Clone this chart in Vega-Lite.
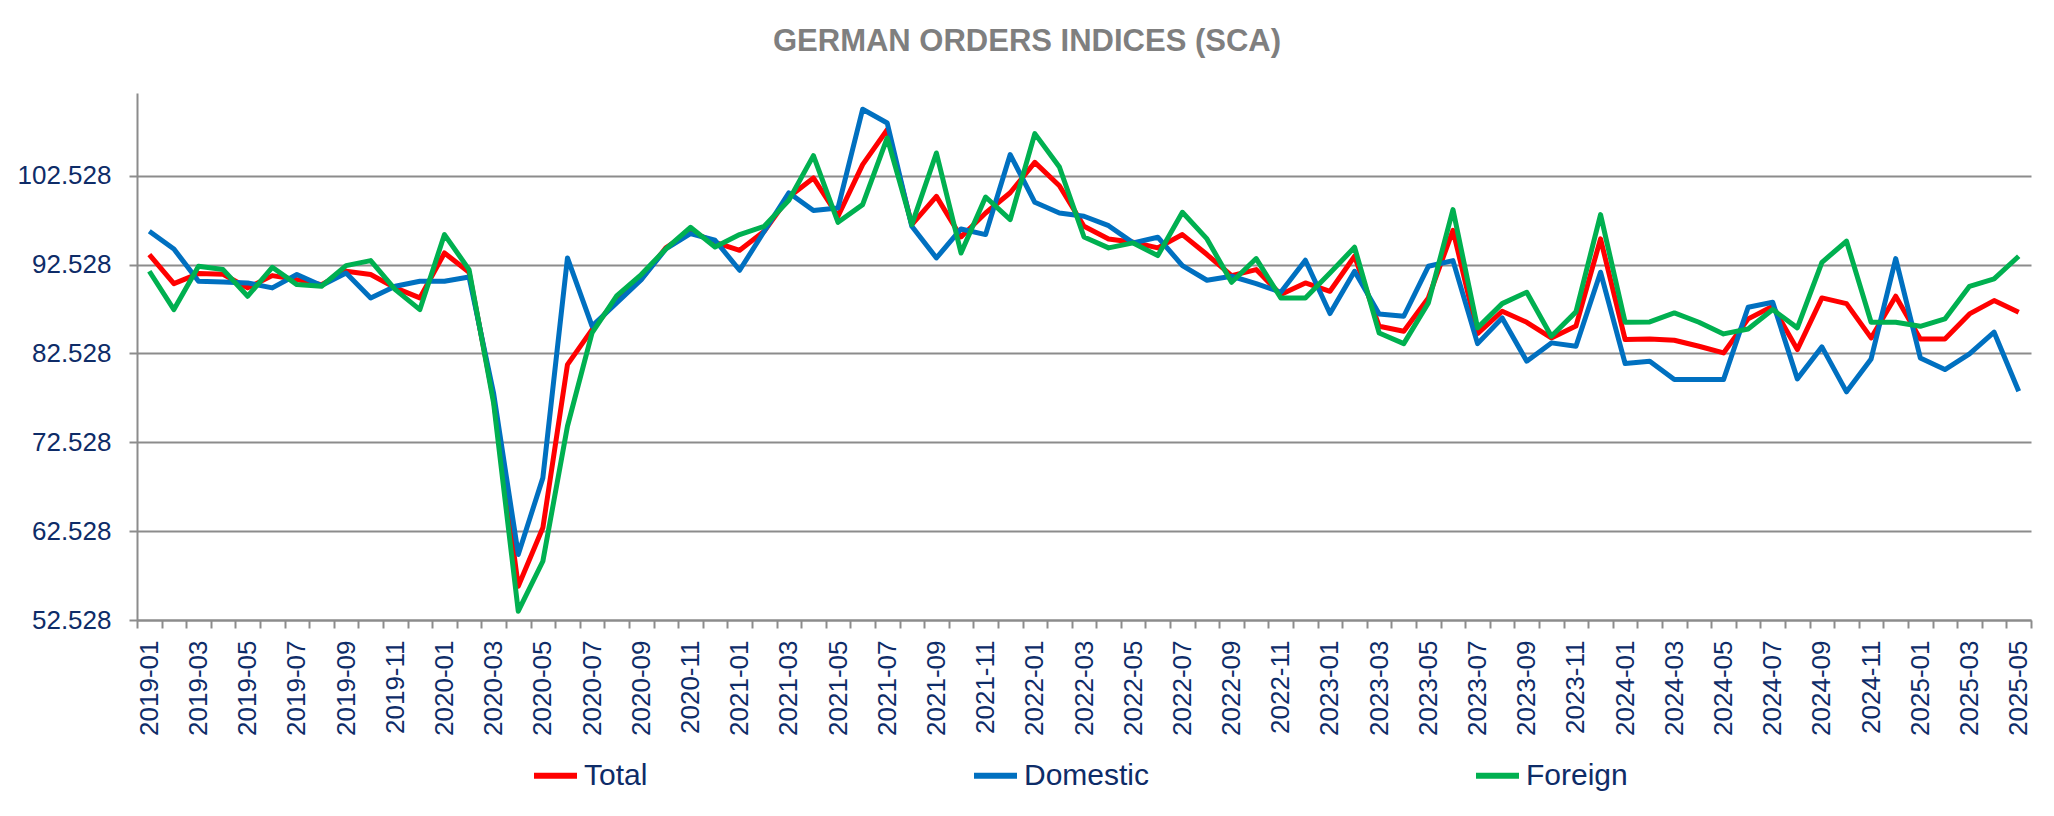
{
  "$schema": "https://vega.github.io/schema/vega-lite/v6.json",
  "autosize": "none",
  "width": 1894,
  "height": 527,
  "padding": {"left": 137, "top": 93, "right": 23, "bottom": 196},
  "config": {
    "font": "Liberation Sans",
    "view": {"stroke": null}
  },
  "title": {
    "text": "GERMAN ORDERS INDICES (SCA)",
    "fontSize": 31,
    "fontWeight": "bold",
    "color": "#7f7f7f",
    "font": "Liberation Sans",
    "anchor": "middle",
    "baseline": "alphabetic",
    "offset": 11,
    "dx": -57
  },
  "data": {
    "values": [
      {"m":"2019-01","s":"Total","v":93.65},{"m":"2019-02","s":"Total","v":90.38},{"m":"2019-03","s":"Total","v":91.51},{"m":"2019-04","s":"Total","v":91.43},{"m":"2019-05","s":"Total","v":89.9},{"m":"2019-06","s":"Total","v":91.28},{"m":"2019-07","s":"Total","v":90.83},{"m":"2019-08","s":"Total","v":90.27},{"m":"2019-09","s":"Total","v":91.77},{"m":"2019-10","s":"Total","v":91.4},{"m":"2019-11","s":"Total","v":89.9},{"m":"2019-12","s":"Total","v":88.77},
      {"m":"2020-01","s":"Total","v":93.83},{"m":"2020-02","s":"Total","v":91.66},{"m":"2020-03","s":"Total","v":77.3},{"m":"2020-04","s":"Total","v":56.33},{"m":"2020-05","s":"Total","v":62.9},{"m":"2020-06","s":"Total","v":81.27},{"m":"2020-07","s":"Total","v":85.2},{"m":"2020-08","s":"Total","v":88.6},{"m":"2020-09","s":"Total","v":90.9},{"m":"2020-10","s":"Total","v":94.4},{"m":"2020-11","s":"Total","v":96.27},{"m":"2020-12","s":"Total","v":95.03},
      {"m":"2021-01","s":"Total","v":94.13},{"m":"2021-02","s":"Total","v":96.27},{"m":"2021-03","s":"Total","v":100.13},{"m":"2021-04","s":"Total","v":102.27},{"m":"2021-05","s":"Total","v":97.96},{"m":"2021-06","s":"Total","v":103.77},{"m":"2021-07","s":"Total","v":107.7},{"m":"2021-08","s":"Total","v":97.02},{"m":"2021-09","s":"Total","v":100.2},{"m":"2021-10","s":"Total","v":95.63},{"m":"2021-11","s":"Total","v":98.33},{"m":"2021-12","s":"Total","v":100.6},
      {"m":"2022-01","s":"Total","v":104.03},{"m":"2022-02","s":"Total","v":101.4},{"m":"2022-03","s":"Total","v":96.83},{"m":"2022-04","s":"Total","v":95.41},{"m":"2022-05","s":"Total","v":95.03},{"m":"2022-06","s":"Total","v":94.4},{"m":"2022-07","s":"Total","v":95.9},{"m":"2022-08","s":"Total","v":93.65},{"m":"2022-09","s":"Total","v":91.28},{"m":"2022-10","s":"Total","v":91.96},{"m":"2022-11","s":"Total","v":89.15},{"m":"2022-12","s":"Total","v":90.46},
      {"m":"2023-01","s":"Total","v":89.52},{"m":"2023-02","s":"Total","v":93.46},{"m":"2023-03","s":"Total","v":85.58},{"m":"2023-04","s":"Total","v":85.02},{"m":"2023-05","s":"Total","v":88.77},{"m":"2023-06","s":"Total","v":96.38},{"m":"2023-07","s":"Total","v":84.76},{"m":"2023-08","s":"Total","v":87.27},{"m":"2023-09","s":"Total","v":86.03},{"m":"2023-10","s":"Total","v":84.27},{"m":"2023-11","s":"Total","v":85.6},{"m":"2023-12","s":"Total","v":95.41},
      {"m":"2024-01","s":"Total","v":84.08},{"m":"2024-02","s":"Total","v":84.16},{"m":"2024-03","s":"Total","v":84.01},{"m":"2024-04","s":"Total","v":83.33},{"m":"2024-05","s":"Total","v":82.58},{"m":"2024-06","s":"Total","v":86.41},{"m":"2024-07","s":"Total","v":87.83},{"m":"2024-08","s":"Total","v":82.96},{"m":"2024-09","s":"Total","v":88.77},{"m":"2024-10","s":"Total","v":88.13},{"m":"2024-11","s":"Total","v":84.27},{"m":"2024-12","s":"Total","v":88.96},
      {"m":"2025-01","s":"Total","v":84.16},{"m":"2025-02","s":"Total","v":84.16},{"m":"2025-03","s":"Total","v":86.97},{"m":"2025-04","s":"Total","v":88.47},{"m":"2025-05","s":"Total","v":87.16},
      {"m":"2019-01","s":"Domestic","v":96.27},{"m":"2019-02","s":"Domestic","v":94.28},{"m":"2019-03","s":"Domestic","v":90.65},{"m":"2019-04","s":"Domestic","v":90.57},{"m":"2019-05","s":"Domestic","v":90.46},{"m":"2019-06","s":"Domestic","v":89.9},{"m":"2019-07","s":"Domestic","v":91.4},{"m":"2019-08","s":"Domestic","v":90.16},{"m":"2019-09","s":"Domestic","v":91.58},{"m":"2019-10","s":"Domestic","v":88.77},{"m":"2019-11","s":"Domestic","v":90.08},{"m":"2019-12","s":"Domestic","v":90.65},
      {"m":"2020-01","s":"Domestic","v":90.65},{"m":"2020-02","s":"Domestic","v":91.13},{"m":"2020-03","s":"Domestic","v":78.0},{"m":"2020-04","s":"Domestic","v":59.9},{"m":"2020-05","s":"Domestic","v":68.52},{"m":"2020-06","s":"Domestic","v":93.27},{"m":"2020-07","s":"Domestic","v":85.6},{"m":"2020-08","s":"Domestic","v":88.2},{"m":"2020-09","s":"Domestic","v":90.83},{"m":"2020-10","s":"Domestic","v":94.28},{"m":"2020-11","s":"Domestic","v":96.0},{"m":"2020-12","s":"Domestic","v":95.26},
      {"m":"2021-01","s":"Domestic","v":91.88},{"m":"2021-02","s":"Domestic","v":96.27},{"m":"2021-03","s":"Domestic","v":100.6},{"m":"2021-04","s":"Domestic","v":98.6},{"m":"2021-05","s":"Domestic","v":98.9},{"m":"2021-06","s":"Domestic","v":110.0},{"m":"2021-07","s":"Domestic","v":108.45},{"m":"2021-08","s":"Domestic","v":96.83},{"m":"2021-09","s":"Domestic","v":93.27},{"m":"2021-10","s":"Domestic","v":96.53},{"m":"2021-11","s":"Domestic","v":95.9},{"m":"2021-12","s":"Domestic","v":104.9},
      {"m":"2022-01","s":"Domestic","v":99.53},{"m":"2022-02","s":"Domestic","v":98.33},{"m":"2022-03","s":"Domestic","v":97.96},{"m":"2022-04","s":"Domestic","v":96.9},{"m":"2022-05","s":"Domestic","v":94.96},{"m":"2022-06","s":"Domestic","v":95.6},{"m":"2022-07","s":"Domestic","v":92.41},{"m":"2022-08","s":"Domestic","v":90.76},{"m":"2022-09","s":"Domestic","v":91.21},{"m":"2022-10","s":"Domestic","v":90.38},{"m":"2022-11","s":"Domestic","v":89.41},{"m":"2022-12","s":"Domestic","v":93.01},
      {"m":"2023-01","s":"Domestic","v":87.01},{"m":"2023-02","s":"Domestic","v":91.77},{"m":"2023-03","s":"Domestic","v":86.97},{"m":"2023-04","s":"Domestic","v":86.71},{"m":"2023-05","s":"Domestic","v":92.33},{"m":"2023-06","s":"Domestic","v":92.97},{"m":"2023-07","s":"Domestic","v":83.63},{"m":"2023-08","s":"Domestic","v":86.52},{"m":"2023-09","s":"Domestic","v":81.65},{"m":"2023-10","s":"Domestic","v":83.71},{"m":"2023-11","s":"Domestic","v":83.33},{"m":"2023-12","s":"Domestic","v":91.66},
      {"m":"2024-01","s":"Domestic","v":81.38},{"m":"2024-02","s":"Domestic","v":81.65},{"m":"2024-03","s":"Domestic","v":79.58},{"m":"2024-04","s":"Domestic","v":79.58},{"m":"2024-05","s":"Domestic","v":79.58},{"m":"2024-06","s":"Domestic","v":87.72},{"m":"2024-07","s":"Domestic","v":88.28},{"m":"2024-08","s":"Domestic","v":79.66},{"m":"2024-09","s":"Domestic","v":83.26},{"m":"2024-10","s":"Domestic","v":78.2},{"m":"2024-11","s":"Domestic","v":81.91},{"m":"2024-12","s":"Domestic","v":93.2},
      {"m":"2025-01","s":"Domestic","v":82.02},{"m":"2025-02","s":"Domestic","v":80.71},{"m":"2025-03","s":"Domestic","v":82.47},{"m":"2025-04","s":"Domestic","v":84.91},{"m":"2025-05","s":"Domestic","v":78.27},
      {"m":"2019-01","s":"Foreign","v":91.77},{"m":"2019-02","s":"Foreign","v":87.46},{"m":"2019-03","s":"Foreign","v":92.33},{"m":"2019-04","s":"Foreign","v":91.96},{"m":"2019-05","s":"Foreign","v":88.96},{"m":"2019-06","s":"Foreign","v":92.22},{"m":"2019-07","s":"Foreign","v":90.27},{"m":"2019-08","s":"Foreign","v":90.08},{"m":"2019-09","s":"Foreign","v":92.41},{"m":"2019-10","s":"Foreign","v":92.97},{"m":"2019-11","s":"Foreign","v":89.71},{"m":"2019-12","s":"Foreign","v":87.46},
      {"m":"2020-01","s":"Foreign","v":95.9},{"m":"2020-02","s":"Foreign","v":91.96},{"m":"2020-03","s":"Foreign","v":76.9},{"m":"2020-04","s":"Foreign","v":53.52},{"m":"2020-05","s":"Foreign","v":59.14},{"m":"2020-06","s":"Foreign","v":74.33},{"m":"2020-07","s":"Foreign","v":84.85},{"m":"2020-08","s":"Foreign","v":89.0},{"m":"2020-09","s":"Foreign","v":91.4},{"m":"2020-10","s":"Foreign","v":94.28},{"m":"2020-11","s":"Foreign","v":96.72},{"m":"2020-12","s":"Foreign","v":94.5},
      {"m":"2021-01","s":"Foreign","v":95.9},{"m":"2021-02","s":"Foreign","v":96.83},{"m":"2021-03","s":"Foreign","v":99.76},{"m":"2021-04","s":"Foreign","v":104.78},{"m":"2021-05","s":"Foreign","v":97.28},{"m":"2021-06","s":"Foreign","v":99.27},{"m":"2021-07","s":"Foreign","v":106.77},{"m":"2021-08","s":"Foreign","v":97.02},{"m":"2021-09","s":"Foreign","v":105.08},{"m":"2021-10","s":"Foreign","v":93.83},{"m":"2021-11","s":"Foreign","v":100.13},{"m":"2021-12","s":"Foreign","v":97.58},
      {"m":"2022-01","s":"Foreign","v":107.26},{"m":"2022-02","s":"Foreign","v":103.5},{"m":"2022-03","s":"Foreign","v":95.63},{"m":"2022-04","s":"Foreign","v":94.4},{"m":"2022-05","s":"Foreign","v":94.96},{"m":"2022-06","s":"Foreign","v":93.53},{"m":"2022-07","s":"Foreign","v":98.41},{"m":"2022-08","s":"Foreign","v":95.41},{"m":"2022-09","s":"Foreign","v":90.53},{"m":"2022-10","s":"Foreign","v":93.2},{"m":"2022-11","s":"Foreign","v":88.77},{"m":"2022-12","s":"Foreign","v":88.77},
      {"m":"2023-01","s":"Foreign","v":91.58},{"m":"2023-02","s":"Foreign","v":94.47},{"m":"2023-03","s":"Foreign","v":84.83},{"m":"2023-04","s":"Foreign","v":83.63},{"m":"2023-05","s":"Foreign","v":88.21},{"m":"2023-06","s":"Foreign","v":98.71},{"m":"2023-07","s":"Foreign","v":85.4},{"m":"2023-08","s":"Foreign","v":88.13},{"m":"2023-09","s":"Foreign","v":89.41},{"m":"2023-10","s":"Foreign","v":84.46},{"m":"2023-11","s":"Foreign","v":87.2},{"m":"2023-12","s":"Foreign","v":98.14},
      {"m":"2024-01","s":"Foreign","v":86.03},{"m":"2024-02","s":"Foreign","v":86.07},{"m":"2024-03","s":"Foreign","v":87.08},{"m":"2024-04","s":"Foreign","v":86.03},{"m":"2024-05","s":"Foreign","v":84.72},{"m":"2024-06","s":"Foreign","v":85.28},{"m":"2024-07","s":"Foreign","v":87.46},{"m":"2024-08","s":"Foreign","v":85.4},{"m":"2024-09","s":"Foreign","v":92.78},{"m":"2024-10","s":"Foreign","v":95.15},{"m":"2024-11","s":"Foreign","v":86.03},{"m":"2024-12","s":"Foreign","v":86.03},
      {"m":"2025-01","s":"Foreign","v":85.58},{"m":"2025-02","s":"Foreign","v":86.41},{"m":"2025-03","s":"Foreign","v":90.08},{"m":"2025-04","s":"Foreign","v":90.91},{"m":"2025-05","s":"Foreign","v":93.46}
    ]
  },
  "mark": {"type": "line", "strokeWidth": 5, "strokeJoin": "round"},
  "encoding": {
    "x": {
      "field": "m",
      "type": "ordinal",
      "bandPosition": 0.5,
      "scale": {"type": "band", "paddingInner": 0, "paddingOuter": 0},
      "axis": {
        "title": null,
        "tickBand": "extent",
        "labelAngle": 270,
        "labelFontSize": 26,
        "labelColor": "#0e2c68",
        "labelPadding": 12,
        "labelOverlap": false,
        "labelBound": false,
        "labelExpr": "isString(datum.value) && parseInt(substring(datum.value, 5, 7)) % 2 == 1 ? datum.value : ''",
        "tickSize": 8,
        "tickWidth": 2,
        "tickColor": "#8c8c8c",
        "domainColor": "#8c8c8c",
        "domainWidth": 2,
        "grid": false
      }
    },
    "y": {
      "field": "v",
      "type": "quantitative",
      "scale": {"domain": [52.528, 111.83], "nice": false, "zero": false},
      "axis": {
        "title": null,
        "values": [52.528, 62.528, 72.528, 82.528, 92.528, 102.528],
        "format": ".3f",
        "labelFontSize": 26,
        "labelColor": "#0e2c68",
        "labelPadding": 18,
        "tickSize": 8,
        "tickWidth": 2,
        "tickColor": "#8c8c8c",
        "domainColor": "#8c8c8c",
        "domainWidth": 2,
        "grid": true,
        "gridColor": "#8c8c8c",
        "gridWidth": 2
      }
    },
    "color": {
      "field": "s",
      "type": "nominal",
      "scale": {"domain": ["Total", "Domestic", "Foreign"], "range": ["#ff0000", "#0070c0", "#00b050"]},
      "legend": {
        "title": null,
        "orient": "none",
        "direction": "horizontal",
        "legendX": 394,
        "legendY": 658,
        "symbolType": "stroke",
        "symbolSize": 1849,
        "symbolStrokeWidth": 6,
        "labelFontSize": 30,
        "labelColor": "#0e2c68",
        "labelOffset": 4,
        "columnPadding": 314
      }
    }
  }
}
